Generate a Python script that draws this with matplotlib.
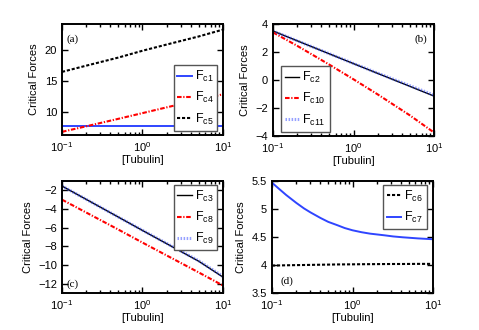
import matplotlib
matplotlib.use('Agg')
from matplotlib import pyplot as plt
import numpy as np

plt.rcParams['font.family'] = ['Liberation Sans', 'DejaVu Sans']
plt.rcParams['mathtext.default'] = 'regular'
plt.rcParams['xtick.direction'] = 'in'
plt.rcParams['ytick.direction'] = 'in'

# tubulin concentrations where values were read
tub = [0.1, 0.2, 0.5, 1, 2, 5, 10]

# panel (a)
fc1 = [7.75, 7.75, 7.75, 7.75, 7.75, 7.75, 7.75]
fc4 = [6.86, 7.75, 8.95, 9.87, 10.8, 12.0, 12.9]
fc5 = [16.5, 17.5, 18.8, 19.9, 20.9, 22.2, 23.3]

# panel (b)
fc2 = [3.50, 2.80, 1.87, 1.17, 0.47, -0.45, -1.15]
fc10 = [3.40, 2.44, 1.10, 0.05, -1.03, -2.52, -3.75]
fc11 = [3.50, 2.80, 1.88, 1.18, 0.49, -0.40, -1.08]

# panel (c)
fc3 = [-1.54, -2.97, -4.86, -6.30, -7.72, -9.60, -11.30]
fc8 = [-3.00, -4.38, -6.20, -7.60, -8.98, -10.80, -12.20]
fc9 = [-1.54, -2.97, -4.86, -6.28, -7.69, -9.55, -11.22]

# panel (d)
tub_d = [0.1, 0.12, 0.15, 0.2, 0.25, 0.3, 0.4, 0.5, 0.65, 0.8, 1,
		 1.3, 1.65, 2.5, 3.2, 4.2, 6.5, 10]
fc6 = [3.99, 3.992, 3.995, 3.998, 4.0, 4.002, 4.005, 4.007, 4.01, 4.011, 4.012,
	   4.014, 4.015, 4.017, 4.018, 4.018, 4.02, 4.02]
fc7 = [5.47, 5.37, 5.25, 5.11, 5.01, 4.94, 4.84, 4.77, 4.71, 4.66, 4.62,
	   4.585, 4.56, 4.53, 4.51, 4.495, 4.475, 4.46]

BLUE = '#2f45ff'
W, H = 479, 330

fig = plt.figure(figsize=(4.79, 3.30), dpi=100)


def make_ax(x0, y0, x1, y1):
	ax = fig.add_axes([x0 / W, 1 - y1 / H, (x1 - x0) / W, (y1 - y0) / H])
	ax.set_xscale('log')
	ax.set_xlim(0.1, 10)
	for s in ax.spines.values():
		s.set_linewidth(1.4)
	ax.tick_params(which='both', top=True, right=True, labelsize=8, width=1)
	ax.tick_params(which='major', length=4)
	ax.tick_params(which='minor', length=2)
	ax.set_xlabel('[Tubulin]', fontsize=8, labelpad=1)
	ax.set_ylabel('Critical Forces', fontsize=8, labelpad=4)
	return ax


def panel_label(ax, txt, x, y):
	ax.text(x, y, txt, transform=ax.transAxes, fontsize=8,
			family=['Liberation Serif', 'DejaVu Serif'])


def legend(ax, loc, anchor):
	ax.legend(loc=loc, bbox_to_anchor=anchor, borderaxespad=0, fontsize=9,
			  fancybox=False, edgecolor='#555555', framealpha=1,
			  handlelength=1.15, handletextpad=0.25, labelspacing=0.5,
			  borderpad=0.3)


# (a)
ax = make_ax(62, 24, 223, 135)
ax.plot(tub, fc1, color=BLUE, lw=1.4, label='F$_{c1}$')
ax.plot(tub, fc4, color='red', lw=1.5, dashes=(2.2, 0.8, 0.6, 0.8), label='F$_{c4}$')
ax.plot(tub, fc5, color='black', lw=1.5, dashes=(1.5, 0.9), label='F$_{c5}$')
ax.set_ylim(6.35, 24.2)
ax.set_yticks([10, 15, 20])
legend(ax, 'lower right', (0.965, 0.04))
panel_label(ax, '(a)', 0.03, 0.84)

# (b)
ax = make_ax(273, 24, 434, 136)
ax.plot(tub, fc2, color='black', lw=1.0, label='F$_{c2}$')
ax.plot(tub, fc10, color='red', lw=1.5, dashes=(2.2, 0.8, 0.6, 0.8), label='F$_{c10}$')
ax.plot(tub, fc11, color=BLUE, lw=2.2, alpha=0.5, dashes=(0.5, 0.5), label='F$_{c11}$')
ax.set_ylim(-4, 4)
ax.set_yticks([-4, -2, 0, 2, 4])
legend(ax, 'lower left', (0.05, 0.04))
panel_label(ax, '(b)', 0.88, 0.84)

# (c)
ax = make_ax(62, 181, 223, 293)
ax.plot(tub, fc3, color='black', lw=1.0, label='F$_{c3}$')
ax.plot(tub, fc8, color='red', lw=1.5, dashes=(2.2, 0.8, 0.6, 0.8), label='F$_{c8}$')
ax.plot(tub, fc9, color=BLUE, lw=2.2, alpha=0.5, dashes=(0.5, 0.5), label='F$_{c9}$')
ax.set_ylim(-13, -1)
ax.set_yticks([-12, -10, -8, -6, -4, -2])
legend(ax, 'upper right', (0.965, 0.965))
panel_label(ax, '(c)', 0.03, 0.06)

# (d)
ax = make_ax(272, 181, 433, 293)
ax.plot(tub_d, fc6, color='black', lw=1.5, dashes=(1.5, 0.9), label='F$_{c6}$')
ax.plot(tub_d, fc7, color=BLUE, lw=1.4, label='F$_{c7}$')
ax.set_ylim(3.5, 5.5)
ax.set_yticks([3.5, 4, 4.5, 5, 5.5])
ax.set_yticklabels(['3.5', '4', '4.5', '5', '5.5'])
legend(ax, 'upper right', (0.96, 0.965))
panel_label(ax, '(d)', 0.05, 0.08)

fig.savefig('out.png', dpi=100)
